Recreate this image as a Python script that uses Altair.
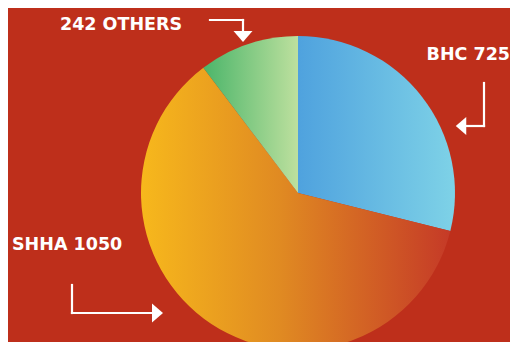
import altair as alt
import pandas as pd

# Slice data (shares in percent estimated from the drawn angles)
names = ["BHC", "SHHA", "OTHERS"]
values = [725, 1050, 242]
shares = [28.9, 60.8, 10.3]
order = [1, 2, 3]
labels = ["BHC 725", "SHHA 1050", "242 OTHERS"]

BG = "#BE2F1B"
CX, CY, R = 290, 185, 157

df = pd.DataFrame({"name": names, "value": values, "share": shares, "order": order})

gradients = {
    "BHC": alt.LinearGradient(gradient="linear", x1=0, y1=0, x2=1, y2=0,
                              stops=[alt.GradientStop(color="#4FA2DE", offset=0),
                                     alt.GradientStop(color="#7ED2E7", offset=1)]),
    "SHHA": alt.LinearGradient(gradient="linear", x1=0, y1=0, x2=1, y2=0,
                               stops=[alt.GradientStop(color="#F7B81C", offset=0),
                                      alt.GradientStop(color="#E08A22", offset=0.45),
                                      alt.GradientStop(color="#C53A27", offset=1)]),
    "OTHERS": alt.LinearGradient(gradient="linear", x1=0, y1=0, x2=1, y2=0,
                                 stops=[alt.GradientStop(color="#4BB56A", offset=0),
                                        alt.GradientStop(color="#BDE09E", offset=1)]),
}

base = alt.Chart(df).transform_window(
    end="sum(share)", sort=[alt.SortField("order")],
    frame=[None, 0]
).transform_calculate(start="datum.end - datum.share")

theta_scale = alt.Scale(domain=[0, 100], range=[0, 6.283185307])

layers = []
for n in names:
    layers.append(
        base.transform_filter(alt.datum.name == n).mark_arc(
            outerRadius=R, fill=gradients[n]
        ).encode(
            theta=alt.Theta("start:Q", scale=theta_scale),
            theta2="end:Q",
            x=alt.value(CX), y=alt.value(CY),
        )
    )

font = "DejaVu Sans"
txt = dict(font=font, fontSize=17.5, fontWeight="bold", color="white")
t_others = alt.Chart().mark_text(text=labels[2], align="left", baseline="alphabetic", **txt).encode(
    x=alt.value(52), y=alt.value(22))
t_bhc = alt.Chart().mark_text(text=labels[0], align="right", baseline="alphabetic", **txt).encode(
    x=alt.value(502), y=alt.value(52))
t_shha = alt.Chart().mark_text(text=labels[1], align="left", baseline="alphabetic", **txt).encode(
    x=alt.value(4), y=alt.value(242))

lw = 2.2
def rule(x, x2, y, y2):
    return alt.Chart().mark_rule(color="white", strokeWidth=lw, strokeCap="square").encode(
        x=alt.value(x), x2=alt.value(x2), y=alt.value(y), y2=alt.value(y2))

def head(x, y, shape, size):
    return alt.Chart().mark_point(shape=shape, size=size, filled=True, color="white", opacity=1,
                                  strokeWidth=0).encode(x=alt.value(x), y=alt.value(y))

down = "M-1,-0.58L1,-0.58L0,0.58Z"
left = "M0.58,-1L0.58,1L-0.58,0Z"
right = "M-0.58,-1L-0.58,1L0.58,0Z"

arrows = [
    rule(202, 235, 12, 12), rule(235, 235, 12, 24), head(235, 28.5, down, 361),
    rule(476, 476, 75, 118), rule(476, 458, 118, 118), head(453, 118, left, 324),
    rule(64, 64, 277, 305), rule(64, 146, 305, 305), head(149.5, 305, right, 361),
]

chart = alt.layer(*layers, t_others, t_bhc, t_shha, *arrows).properties(
    width=502, height=334, background=BG,
    autosize=alt.AutoSizeParams(type="none"), padding=0,
).configure_view(stroke=None)

chart.save("out.html", embed_options={"renderer": "svg", "actions": False})
